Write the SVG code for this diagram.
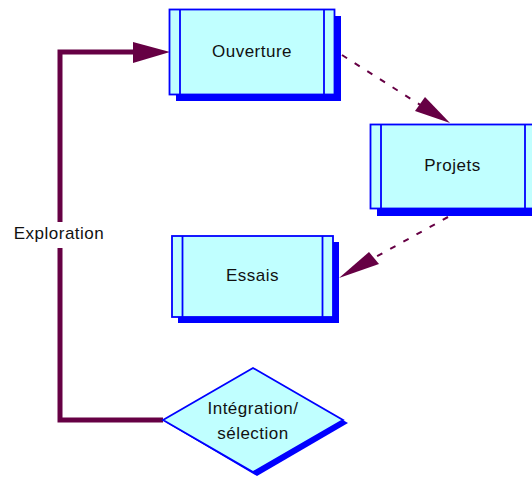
<svg xmlns="http://www.w3.org/2000/svg" width="532" height="479" viewBox="0 0 532 479">
  <style>
    .shadow { fill: #0000ff; }
    .box { fill: #c0ffff; stroke: #0000ff; stroke-width: 1.8; }
    .edge { stroke: #0000ff; stroke-width: 1.8; }
    .label { font-family: "Liberation Sans", Arial, sans-serif; font-size: 17px; letter-spacing: 0.5px; fill: #111; text-anchor: middle; }
    .flow { fill: none; stroke: #660044; stroke-width: 5; }
    .dash { fill: none; stroke: #660044; stroke-width: 2; stroke-dasharray: 6 9; }
    .head { fill: #660044; }
  </style>

  <rect width="532" height="479" fill="#ffffff"/>

  <!-- connectors -->
  <g id="connectors">
    <polyline class="flow" points="163,420 60,420 60,52 140,52"/>
    <polygon class="head" points="170,52 133,42 133,63"/>
    <rect x="50" y="222" width="20" height="26" fill="#ffffff"/>
    <text class="label" x="59" y="239">Exploration</text>

    <line class="dash" x1="342" y1="55" x2="422" y2="106"/>
    <polygon class="head" points="450,123 425,97 415,111"/>

    <line class="dash" x1="448" y1="217" x2="372" y2="259"/>
    <polygon class="head" points="339,278 369,252 379,264"/>
  </g>

  <!-- Ouverture -->
  <g id="ouverture">
    <rect class="shadow" x="176" y="16" width="165" height="85"/>
    <rect class="box" x="169.5" y="9.5" width="165" height="85"/>
    <line class="edge" x1="180" y1="9.5" x2="180" y2="94.5"/>
    <line class="edge" x1="324" y1="9.5" x2="324" y2="94.5"/>
    <text class="label" x="252" y="57">Ouverture</text>
  </g>

  <!-- Projets -->
  <g id="projets">
    <rect class="shadow" x="377" y="131" width="165" height="85"/>
    <rect class="box" x="370.5" y="124.5" width="165" height="84"/>
    <line class="edge" x1="381" y1="124.5" x2="381" y2="208.5"/>
    <line class="edge" x1="525" y1="124.5" x2="525" y2="208.5"/>
    <text class="label" x="452.5" y="171">Projets</text>
  </g>

  <!-- Essais -->
  <g id="essais">
    <rect class="shadow" x="178" y="242" width="161" height="81"/>
    <rect class="box" x="172" y="236" width="161" height="81"/>
    <line class="edge" x1="182.5" y1="236" x2="182.5" y2="317"/>
    <line class="edge" x1="322.5" y1="236" x2="322.5" y2="317"/>
    <text class="label" x="252.5" y="281">Essais</text>
  </g>

  <!-- Intégration / sélection -->
  <g id="integration">
    <polygon class="shadow" points="167,423 257,371 348,423 257,476"/>
    <polygon class="box" points="163,420 253,368 343,420 253,472"/>
    <text class="label" x="253" y="414">Intégration/</text>
    <text class="label" x="253" y="439">sélection</text>
  </g>
</svg>
